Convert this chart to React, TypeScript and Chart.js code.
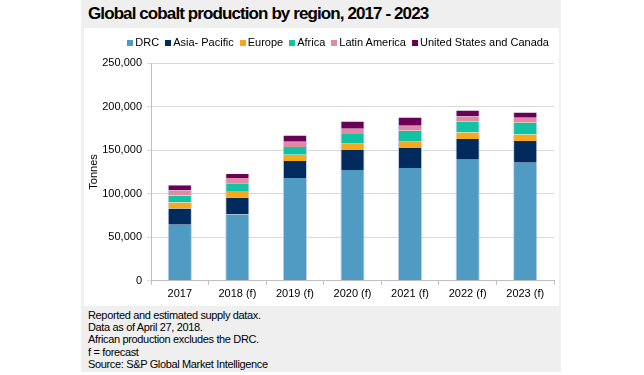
import React, { useEffect, useRef } from "react";
import { Chart, registerables } from "chart.js";

Chart.register(...registerables);

const years = ["2017", "2018 (f)", "2019 (f)", "2020 (f)", "2021 (f)", "2022 (f)", "2023 (f)"];
const drc = [64400, 76000, 118000, 127300, 129600, 138900, 135400];
const asiaPacific = [18500, 19700, 19400, 22800, 22800, 23900, 25100];
const europe = [7000, 7300, 7300, 7300, 7300, 7300, 7300];
const africa = [8000, 8900, 8900, 11200, 12400, 12400, 13600];
const latinAmerica = [5800, 6100, 6100, 5800, 5800, 6200, 5800];
const usCanada = [6000, 4700, 7000, 8500, 9600, 6900, 6100];

const seriesNames = ["DRC", "Asia- Pacific", "Europe", "Africa", "Latin America", "United States and Canada"];
const seriesColors = ["#509bc3", "#002b5c", "#f8a81d", "#12c3a3", "#e08aa3", "#6a0057"];
const yTicks = [0, 50000, 100000, 150000, 200000, 250000];

const FONT = "'Liberation Sans', Arial, sans-serif";

export default function App() {
  const ref = useRef<HTMLCanvasElement | null>(null);
  useEffect(() => {
    if (!ref.current) return;
    const values = [drc, asiaPacific, europe, africa, latinAmerica, usCanada];
    const chart = new Chart(ref.current, {
      type: "bar",
      data: {
        labels: years,
        datasets: values.map((v, i) => ({
          label: seriesNames[i],
          data: v,
          backgroundColor: seriesColors[i],
          borderColor: "rgba(190,200,230,0.9)",
          borderWidth: { left: 1, right: 1, top: 0, bottom: 0 },
          borderSkipped: false,
          categoryPercentage: 1,
          barPercentage: 0.42,
        })),
      },
      options: {
        animation: false,
        responsive: false,
        maintainAspectRatio: false,
        layout: { padding: { left: 0, right: 5, top: 35, bottom: 2 } },
        plugins: {
          legend: { display: false },
          tooltip: { enabled: false },
          title: { display: false },
        },
        scales: {
          x: {
            stacked: true,
            offset: true,
            grid: {
              display: true,
              drawOnChartArea: false,
              drawTicks: true,
              tickLength: 4,
              color: "#bfbfbf",
              offset: true,
            },
            border: { color: "#bfbfbf" },
            ticks: { color: "#000", font: { family: FONT, size: 11 }, maxRotation: 0, padding: 3 },
          },
          y: {
            stacked: true,
            min: 0,
            max: 250000,
            afterBuildTicks: (axis: any) => {
              axis.ticks = yTicks.map((v) => ({ value: v }));
            },
            afterFit: (axis: any) => {
              axis.width = 67;
            },
            grid: { color: "#d9d9d9", tickLength: 4, drawTicks: true },
            border: { color: "#bfbfbf" },
            ticks: {
              color: "#000",
              font: { family: FONT, size: 11 },
              padding: 5,
              callback: (v: any) => Number(v).toLocaleString("en-US"),
            },
            title: {
              display: true,
              text: "Tonnes",
              color: "#000",
              font: { family: FONT, size: 11 },
              padding: { top: 3, bottom: 0 },
            },
          },
        },
      },
    });
    return () => chart.destroy();
  }, []);

  return (
    <div style={{ position: "absolute", left: 0, top: 0, width: 644, height: 375, background: "#fff", fontFamily: FONT }}>
      <div style={{ position: "absolute", left: 81, top: 0, width: 480, height: 372, background: "#efefef" }} />
      <div
        style={{
          position: "absolute",
          left: 88,
          top: 3,
          fontSize: 17,
          fontWeight: "bold",
          color: "#000",
          whiteSpace: "nowrap",
          lineHeight: "22px",
          letterSpacing: "-0.9px",
        }}
      >
        Global cobalt production by region, 2017 - 2023
      </div>
      <div style={{ position: "absolute", left: 84, top: 28, width: 475, height: 278, background: "#fff" }}>
        <canvas ref={ref} width={475} height={278} style={{ width: 475, height: 278, display: "block" }} />
      </div>
      <div
        style={{
          position: "absolute",
          right: 644 - 549,
          top: 36,
          display: "flex",
          alignItems: "center",
          fontSize: 11,
          lineHeight: "13px",
          color: "#000",
          whiteSpace: "nowrap",
        }}
      >
        {seriesNames.map((n, i) => (
          <div key={n} style={{ display: "flex", alignItems: "center", marginLeft: i === 0 ? 0 : 6 }}>
            <span style={{ display: "inline-block", width: 6, height: 6, background: seriesColors[i], marginRight: 2 }} />
            <span>{n}</span>
          </div>
        ))}
      </div>
      <div
        style={{
          position: "absolute",
          left: 88,
          top: 309,
          fontSize: 11,
          lineHeight: "12.2px",
          color: "#000",
          whiteSpace: "nowrap",
          letterSpacing: "-0.35px",
        }}
      >
        <div>Reported and estimated supply datax.</div>
        <div>Data as of April 27, 2018.</div>
        <div>African production excludes the DRC.</div>
        <div>f = forecast</div>
        <div>Source: S&amp;P Global Market Intelligence</div>
      </div>
    </div>
  );
}
